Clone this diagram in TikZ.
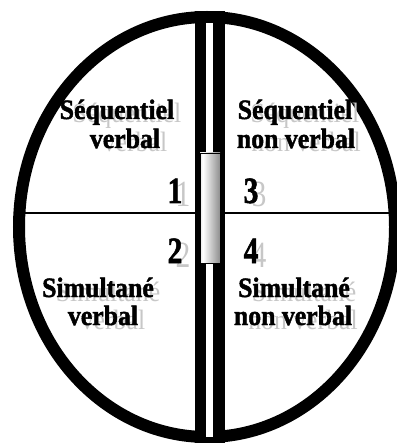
\documentclass[tikz,border=0pt]{standalone}
\usepackage{fontspec}
\setmainfont{Liberation Serif}
\newfontfamily\heavyfont{Liberation Serif}[FakeBold=1.6]
\usepackage{graphicx}
\newcommand\condense[1]{\scalebox{0.8}[1]{#1}}
\newcommand\narrowtext[1]{\scalebox{0.92}[1]{#1}}
\pgfdeclarehorizontalshading{cyl}{100bp}{color(0bp)=(black!45); color(32bp)=(white); color(100bp)=(black!70)}
\tikzset{
 lbl/.style={anchor=base, inner sep=0pt, font=\fontsize{28}{28}\heavyfont\bfseries},
 shd/.style={anchor=base, inner sep=0pt, font=\fontsize{28}{28}\selectfont, text=black!22},
 dig/.style={anchor=base, inner sep=0pt, font=\fontsize{37}{37}\heavyfont\bfseries},
 digs/.style={anchor=base, inner sep=0pt, font=\fontsize{37}{37}\selectfont, text=black!22},
 ring/.style={line width=12pt},
 axis/.style={line width=1.3pt}
}
\begin{document}
\begin{tikzpicture}[x=1pt,y=-1pt]
\useasboundingbox (0,0) rectangle (396,443);
% horizontal axis
\coordinate (hl) at (22,213);
\coordinate (hr) at (392,213);
\draw[axis] (hl) -- (hr);
% outer ellipse
\draw[ring] (207,227) ellipse [x radius=188, y radius=210];
% divider
\fill[black] (195,11) rectangle (225,443);
\fill[white] (206,23) rectangle (213,437);
% cylinder
\shade[shading=cyl, draw=black, line width=0.8pt] (200,153) rectangle (220,263);
% texts: shadows first
\node[shd] at (127,123) {\narrowtext{Séquentiel}};
\node[lbl] (tla) at (117,119) {\narrowtext{Séquentiel}};
\node[shd] at (135,152) {\narrowtext{verbal}};
\node[lbl] (tlb) at (125,148) {\narrowtext{verbal}};
\node[shd] at (305,123) {\narrowtext{Séquentiel}};
\node[lbl] (tra) at (295,119) {\narrowtext{Séquentiel}};
\node[shd] at (306,152) {\narrowtext{non verbal}};
\node[lbl] (trb) at (296,148) {\narrowtext{non verbal}};
\node[shd] at (108,301) {\narrowtext{Simultané}};
\node[lbl] (bla) at (98,297) {\narrowtext{Simultané}};
\node[shd] at (113,329) {\narrowtext{verbal}};
\node[lbl] (blb) at (103,325) {\narrowtext{verbal}};
\node[shd] at (304,301) {\narrowtext{Simultané}};
\node[lbl] (bra) at (294,297) {\narrowtext{Simultané}};
\node[shd] at (303,329) {\narrowtext{non verbal}};
\node[lbl] (brb) at (293,325) {\narrowtext{non verbal}};
% digits
\node[digs] at (183,207) {\condense{1}};
\node[dig] (d1) at (175,203) {\condense{1}};
\node[digs] at (259,207) {\condense{3}};
\node[dig] (d3) at (251,203) {\condense{3}};
\node[digs] at (183,267) {\condense{2}};
\node[dig] (d2) at (175,263) {\condense{2}};
\node[digs] at (259,267) {\condense{4}};
\node[dig] (d4) at (251,263) {\condense{4}};
\end{tikzpicture}
\end{document}
